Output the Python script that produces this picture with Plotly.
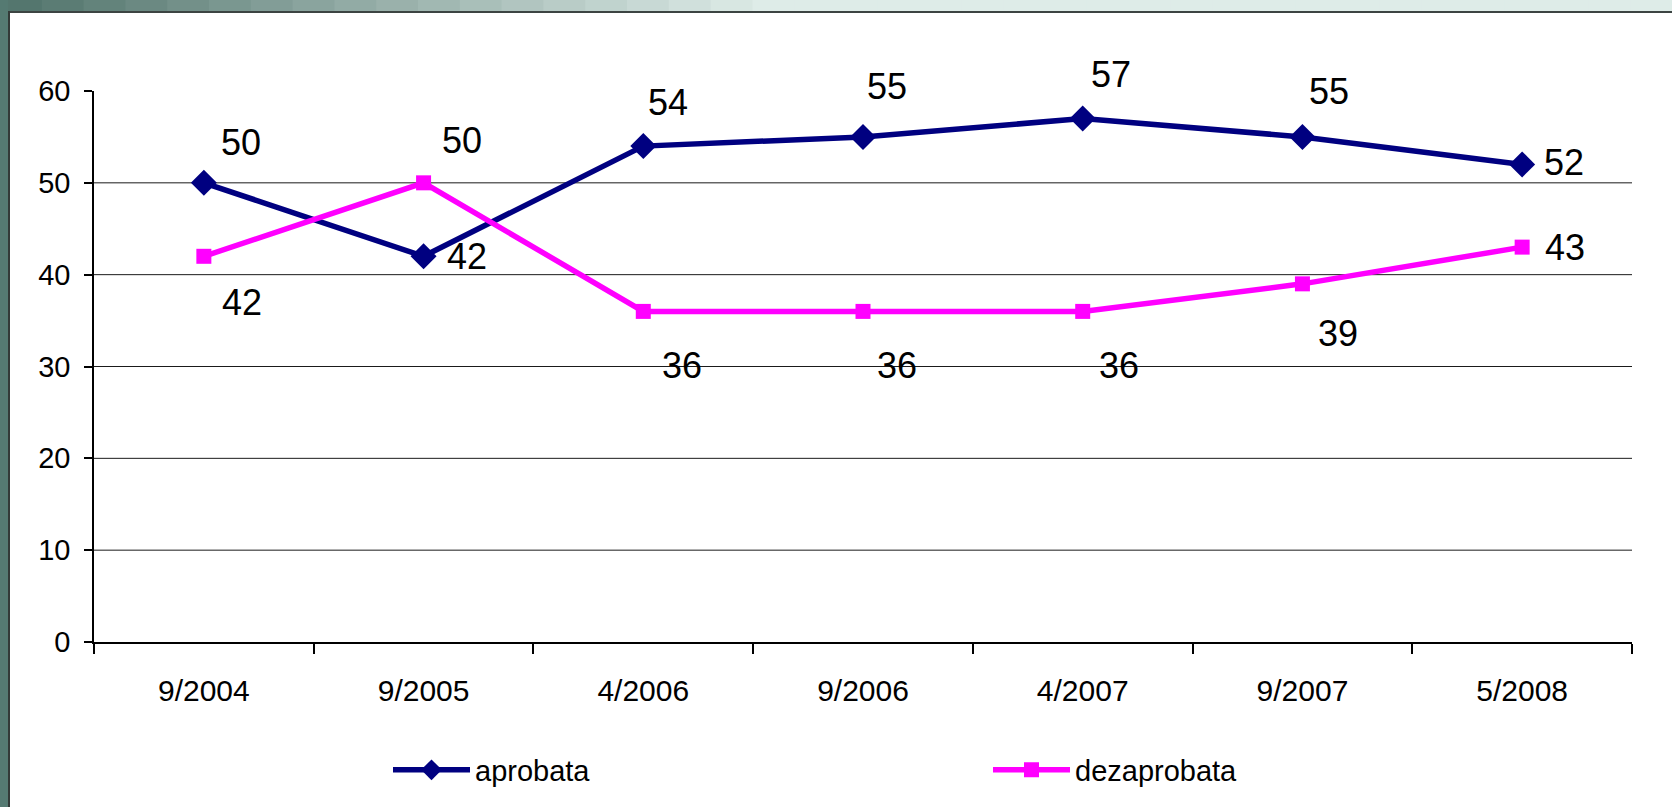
import plotly.graph_objects as go

# ---- data ----
categories = ["9/2004", "9/2005", "4/2006", "9/2006", "4/2007", "9/2007", "5/2008"]
aprobata = [50, 42, 54, 55, 57, 55, 52]
dezaprobata = [42, 50, 36, 36, 36, 39, 43]
y_ticks = [0, 10, 20, 30, 40, 50, 60]
grid_values = [10, 20, 30, 40, 50]

# ---- layout geometry (pixels) ----
W, H = 1672, 807
L, R, T, B = 94, 1632, 91, 642
PW, PH = R - L, B - T

def px_x(x):
    return (x - L) / PW

def px_y(y):
    return (B - y) / PH

FONT = "Liberation Sans, Arial, sans-serif"
NAVY = "#000080"
MAGENTA = "#FF00FF"

fig = go.Figure()
fig.add_trace(go.Scatter(
    x=categories, y=aprobata, name="aprobata", mode="lines+markers",
    line=dict(color=NAVY, width=5.5),
    marker=dict(symbol="diamond", size=20, color=NAVY),
    cliponaxis=False, legend="legend",
))
fig.add_trace(go.Scatter(
    x=categories, y=dezaprobata, name="dezaprobata", mode="lines+markers",
    line=dict(color=MAGENTA, width=5.5),
    marker=dict(symbol="square", size=15, color=MAGENTA),
    cliponaxis=False, legend="legend2",
))

# data label offsets (px) relative to each point
apr_shift = [(37, 40), (43, 0), (25, 44), (24, 50), (28, 44), (27, 45), (42, 2)]
dez_shift = [(38, -46), (38, 42), (39, -54), (34, -54), (36, -54), (36, -50), (43, 0)]

LABEL_SIZE = 36
annotations = []
for cat, v, (dx, dy) in zip(categories, aprobata, apr_shift):
    annotations.append(dict(x=cat, y=v, xref="x", yref="y", text=str(v), showarrow=False,
                            xshift=dx, yshift=dy, font=dict(family=FONT, size=LABEL_SIZE, color="black")))
for cat, v, (dx, dy) in zip(categories, dezaprobata, dez_shift):
    annotations.append(dict(x=cat, y=v, xref="x", yref="y", text=str(v), showarrow=False,
                            xshift=dx, yshift=dy, font=dict(family=FONT, size=LABEL_SIZE, color="black")))

shapes = []
# gridlines
for g in grid_values:
    shapes.append(dict(type="line", xref="paper", yref="y", x0=0, x1=1, y0=g, y1=g,
                       line=dict(color="#1a1a1a", width=1), layer="below"))

# slide frame decoration: top gradient strip
n = 40
c0 = (84, 118, 110)
c1 = (222, 236, 232)
for i in range(n):
    t = min(1.0, (i / (n - 1)) * 2.2)
    col = tuple(int(c0[k] + (c1[k] - c0[k]) * t) for k in range(3))
    x0 = i * W / n
    x1 = (i + 1) * W / n + 1
    shapes.append(dict(type="rect", xref="paper", yref="paper",
                       x0=px_x(x0), x1=px_x(x1), y0=px_y(11), y1=px_y(0),
                       fillcolor="rgb(%d,%d,%d)" % col, line=dict(width=0), layer="below"))
# top dark line
shapes.append(dict(type="rect", xref="paper", yref="paper",
                   x0=px_x(8), x1=px_x(W), y0=px_y(13), y1=px_y(11),
                   fillcolor="#3c4442", line=dict(width=0), layer="below"))
# left stripe
shapes.append(dict(type="rect", xref="paper", yref="paper",
                   x0=px_x(0), x1=px_x(8), y0=px_y(H), y1=px_y(0),
                   fillcolor="#557a72", line=dict(width=0), layer="below"))
shapes.append(dict(type="rect", xref="paper", yref="paper",
                   x0=px_x(8), x1=px_x(10), y0=px_y(H), y1=px_y(11),
                   fillcolor="#333a38", line=dict(width=0), layer="below"))

legend_common = dict(orientation="h", xanchor="left", yanchor="middle", itemwidth=77,
                     font=dict(family=FONT, size=29, color="black"),
                     bgcolor="rgba(0,0,0,0)")

fig.update_layout(
    width=W, height=H,
    margin=dict(l=L, r=W - R, t=T, b=H - B),
    paper_bgcolor="white", plot_bgcolor="white",
    font=dict(family=FONT, color="black"),
    showlegend=True,
    legend=dict(x=px_x(388), y=px_y(770), **legend_common),
    legend2=dict(x=px_x(988), y=px_y(770), **legend_common),
    xaxis=dict(type="category", categoryorder="array", categoryarray=categories,
               range=[-0.5, len(categories) - 0.5],
               showline=True, linecolor="black", linewidth=1.5,
               ticks="outside", tickson="boundaries", ticklen=10, tickcolor="black", tickwidth=1.5,
               showgrid=False, tickfont=dict(family=FONT, size=30, color="black"),
               ticklabelstandoff=21, fixedrange=True),
    yaxis=dict(range=[0, 60], tickvals=y_ticks, showline=True, linecolor="black", linewidth=1.5,
               ticks="outside", ticklen=8, tickcolor="black", tickwidth=1.5,
               showgrid=False, zeroline=False,
               tickfont=dict(family=FONT, size=29, color="black"),
               ticklabelstandoff=8, fixedrange=True),
    annotations=annotations,
    shapes=shapes,
)

fig.write_html("out.html", config={"displayModeBar": False},
               post_script="document.body.style.margin='0';document.body.style.overflow='hidden';")
